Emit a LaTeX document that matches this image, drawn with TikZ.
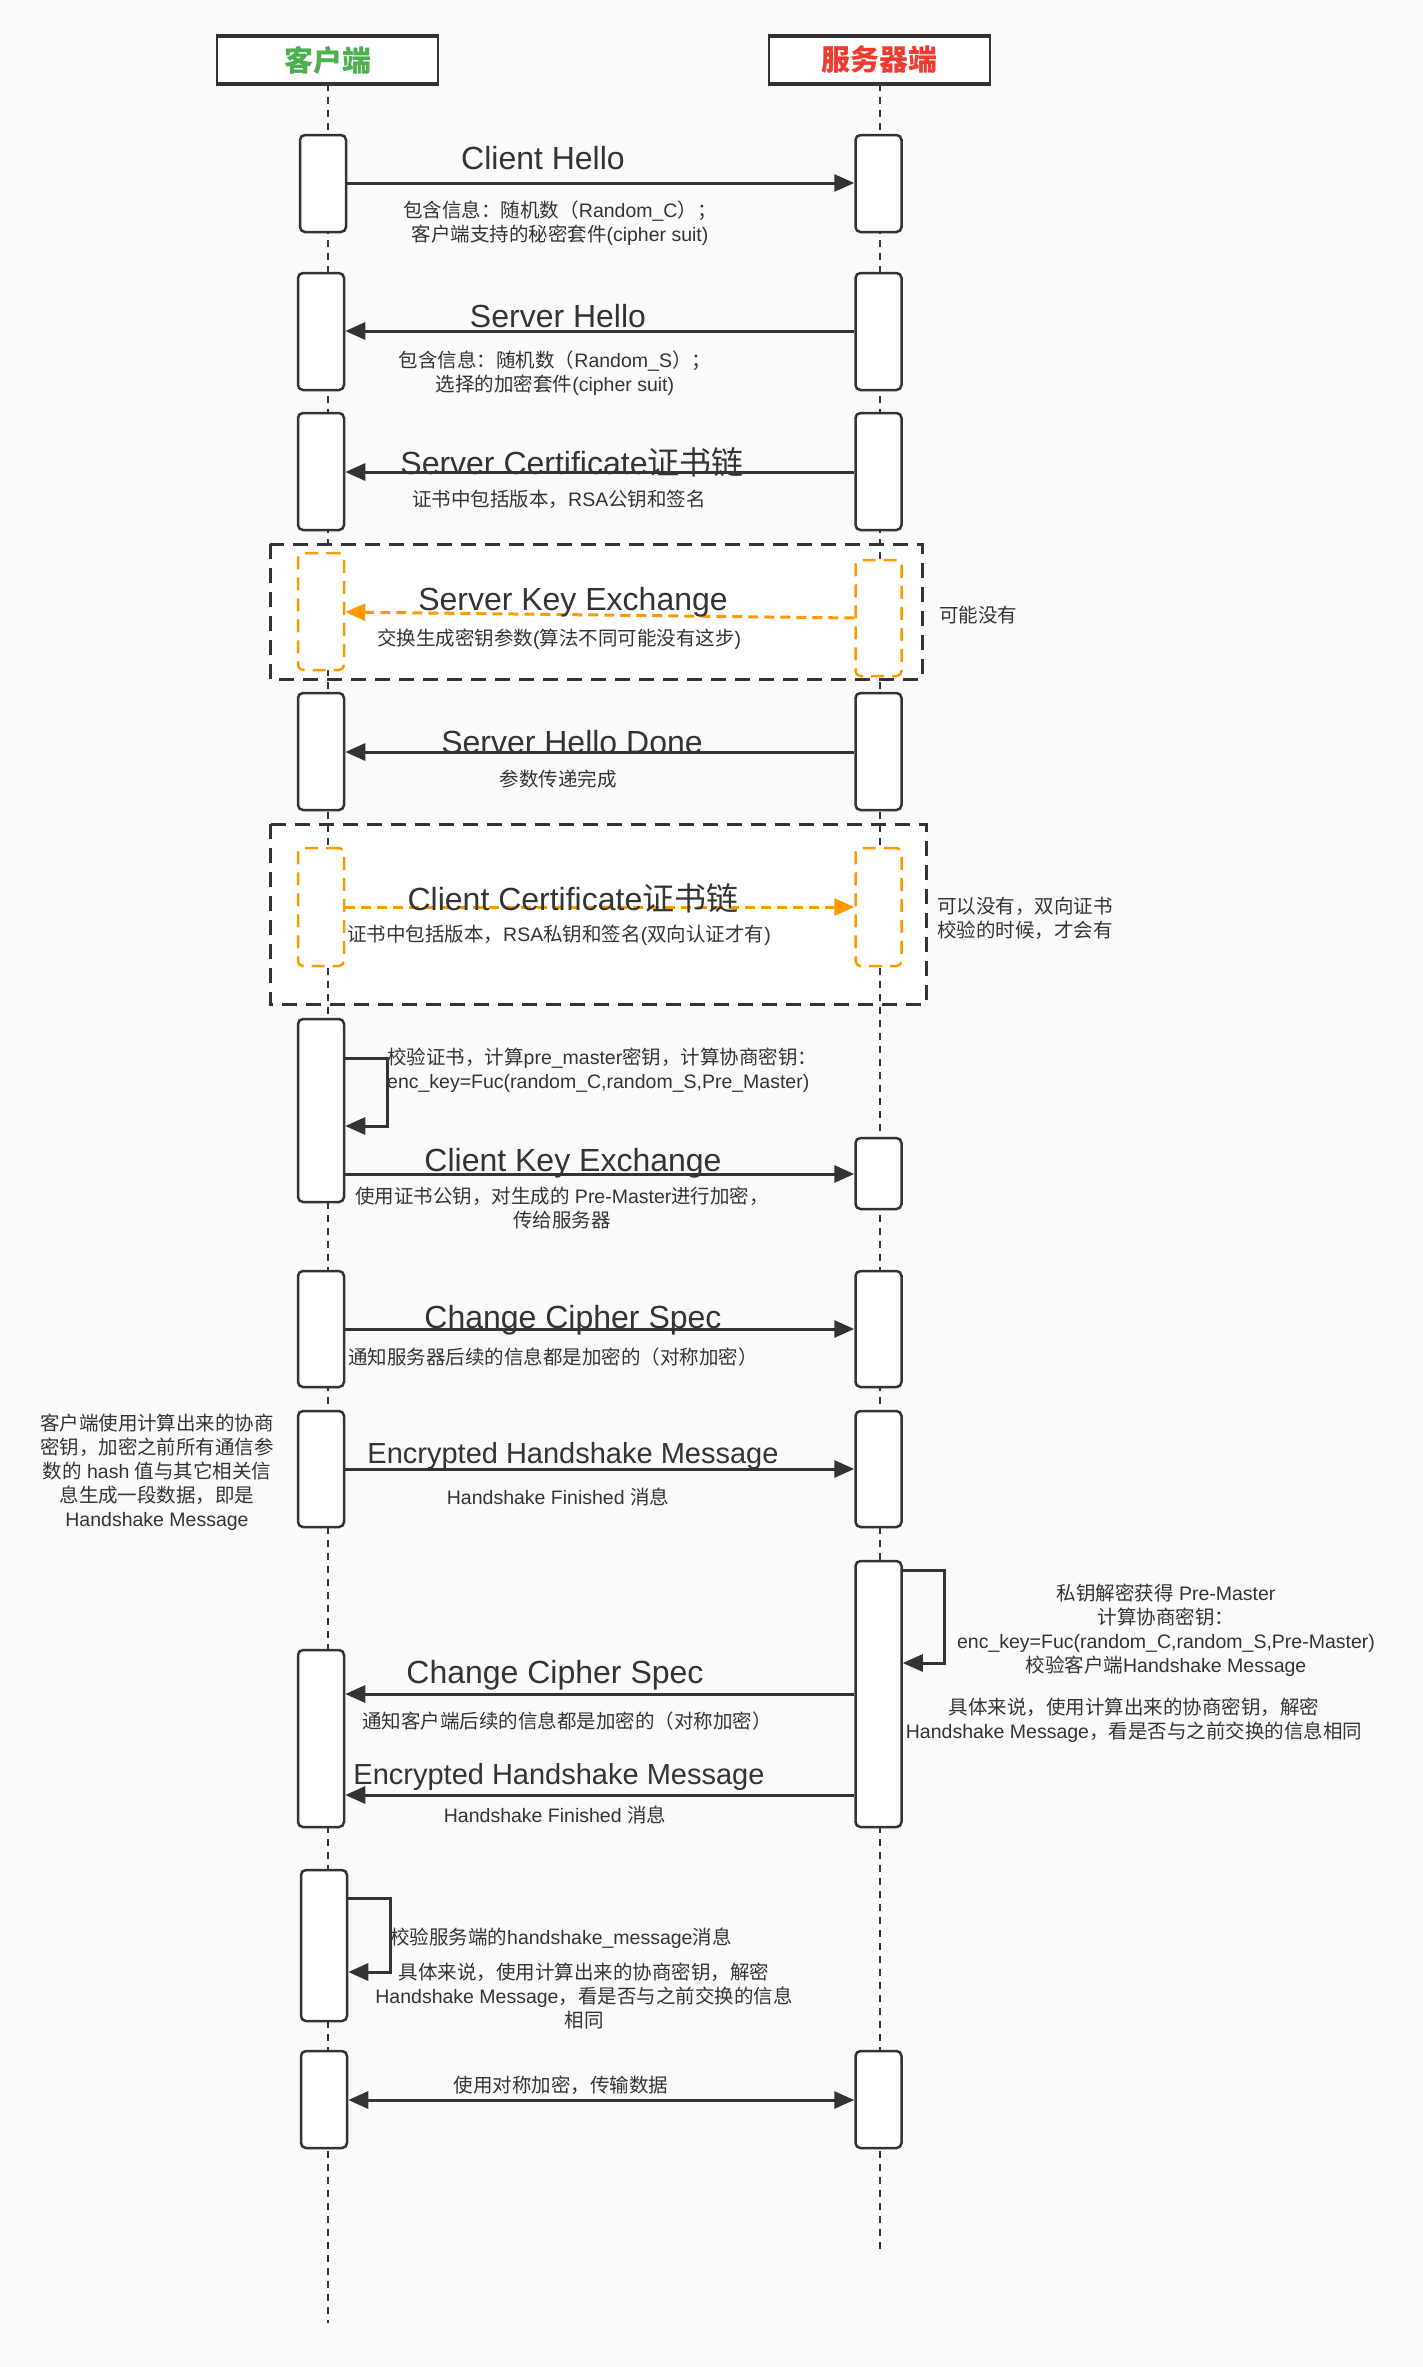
\documentclass[tikz,border=0pt]{standalone}
\usepackage{fontspec}
\setmainfont{Liberation Sans}
\newfontfamily\cjkf{Noto Sans CJK SC}
\newfontfamily\latf{Liberation Sans}
\usetikzlibrary{arrows.meta}
\newXeTeXintercharclass\cjkcls
\makeatletter
\def\setcjkrange#1#2{\count@=#1\relax\loop\XeTeXcharclass\count@=\cjkcls\relax\ifnum\count@<#2\relax\advance\count@ by 1\relax\repeat}
\setcjkrange{"3000}{"303F}
\setcjkrange{"4E00}{"9FFF}
\setcjkrange{"FF00}{"FFEF}
\makeatother
\XeTeXinterchartoks 0 \cjkcls = {\cjkf}
\XeTeXinterchartoks 4095 \cjkcls = {\cjkf}
\XeTeXinterchartoks \cjkcls 0 = {\latf}
\XeTeXinterchartoks \cjkcls 4095 = {\latf}
\XeTeXinterchartokenstate=1
\definecolor{dk}{HTML}{333333}
\definecolor{bg}{HTML}{FAFAFA}
\definecolor{og}{HTML}{FF9900}
\definecolor{gn}{HTML}{4CAF50}
\definecolor{rd}{HTML}{F23A30}
\tikzset{
  act/.style={draw=dk, line width=2.5pt, fill=white, rounded corners=5pt, minimum width=46pt, inner sep=0pt},
  oact/.style={draw=og, line width=2.5pt, fill=white, rounded corners=5pt, minimum width=46pt, inner sep=0pt, dash pattern=on 13pt off 8pt},
  msg/.style={draw=dk, line width=3pt, -{Triangle[length=20pt,width=17pt]}},
  omsg/.style={draw=og, line width=3pt, dash pattern=on 10pt off 6pt, -{Triangle[length=20pt,width=17pt]}},
  lbl/.style={text=dk, font=\fontsize{32}{38}\selectfont, inner sep=0pt},
  lbls/.style={text=dk, font=\fontsize{29}{35}\selectfont, inner sep=0pt},
  sub/.style={text=dk, font=\fontsize{19.5}{24}\selectfont, inner sep=0pt, align=center},
  subl/.style={text=dk, font=\fontsize{19.5}{24}\selectfont, inner sep=0pt, align=left, anchor=west},
  life/.style={draw=dk, line width=2pt, dash pattern=on 7pt off 6pt},
  optbox/.style={draw=dk, fill=white, line width=3pt, dash pattern=on 15pt off 9pt},
  hdr/.style={draw=dk, line width=2pt, fill=white, minimum width=221pt, minimum height=46pt, inner sep=0pt, font=\fontsize{29}{34}\selectfont\bfseries},
}
\begin{document}
\begin{tikzpicture}[x=1pt,y=-1pt]
\fill[bg] (0,0) rectangle (1423,2367);
\useasboundingbox (0,0) rectangle (1423,2367);

% optional dashed regions
\draw[optbox] (270,544) rectangle (922,679);
\draw[optbox] (270,824) rectangle (926,1004);

% headers
\node[hdr, text=gn] (hc) at (327.5,60) {客户端};
\node[hdr, text=rd] (hs) at (879.5,60) {服务器端};
\draw[dk, line width=4pt] (hc.north west) -- (hc.north east);
\draw[dk, line width=4pt] (hc.south west) -- (hc.south east);
\draw[dk, line width=4pt] (hs.north west) -- (hs.north east);
\draw[dk, line width=4pt] (hs.south west) -- (hs.south east);

% lifelines
\coordinate (cend) at (327.5,2323);
\coordinate (send) at (879.5,2250);
\draw[life] (hc.south) -- (cend);
\draw[life] (hs.south) -- (send);

% activations
\node[act, minimum height=97pt] (c1) at (323,183.5) {};
\node[act, minimum height=97pt] (s1) at (878.5,183.5) {};
\node[act, minimum height=117pt] (c2) at (321,331.5) {};
\node[act, minimum height=117pt] (s2) at (878.5,331.5) {};
\node[act, minimum height=117pt] (c3) at (321,471.5) {};
\node[act, minimum height=117pt] (s3) at (878.5,471.5) {};
\node[oact, minimum height=117pt] (c4) at (321,611.5) {};
\node[oact, minimum height=116pt] (s4) at (878.5,618) {};
\node[act, minimum height=117pt] (c5) at (321,751.5) {};
\node[act, minimum height=117pt] (s5) at (878.5,751.5) {};
\node[oact, minimum height=118pt] (c6) at (321,907) {};
\node[oact, minimum height=118pt] (s6) at (878.5,907) {};
\node[act, minimum height=183pt] (c7) at (321,1110.5) {};
\node[act, minimum height=71pt] (s7) at (878.5,1173.5) {};
\node[act, minimum height=116pt] (c8) at (321,1329) {};
\node[act, minimum height=116pt] (s8) at (878.5,1329) {};
\node[act, minimum height=116pt] (c9) at (321,1469) {};
\node[act, minimum height=116pt] (s9) at (878.5,1469) {};
\node[act, minimum height=266pt] (s10) at (878.5,1694) {};
\node[act, minimum height=177pt] (c10) at (321,1738.5) {};
\node[act, minimum height=151pt] (c11) at (324,1945.5) {};
\node[act, minimum height=97pt] (c12) at (324,2099.5) {};
\node[act, minimum height=97pt] (s12) at (878.5,2099.5) {};

% messages
\draw[msg] (c1.east |- 0,183) -- (s1.west |- 0,183);
\draw[msg] (s2.west |- 0,331) -- (c2.east |- 0,331);
\draw[msg] (s3.west |- 0,472) -- (c3.east |- 0,472);
\draw[omsg] (s4.west |- 0,618) -- (c4.east |- 0,612);
\draw[msg] (s5.west |- 0,752) -- (c5.east |- 0,752);
\draw[omsg] (c6.east |- 0,907) -- (s6.west |- 0,907);
\draw[msg] (c7.east |- 0,1058) -- (387,1058) -- (387,1126) -- (c7.east |- 0,1126);
\draw[msg] (c7.east |- 0,1174) -- (s7.west |- 0,1174);
\draw[msg] (c8.east |- 0,1329) -- (s8.west |- 0,1329);
\draw[msg] (c9.east |- 0,1469) -- (s9.west |- 0,1469);
\draw[msg] (s10.east |- 0,1570) -- (944,1570) -- (944,1663) -- (s10.east |- 0,1663);
\draw[msg] (s10.west |- 0,1694) -- (c10.east |- 0,1694);
\draw[msg] (s10.west |- 0,1795) -- (c10.east |- 0,1795);
\draw[msg] (c11.east |- 0,1898) -- (390,1898) -- (390,1972) -- (c11.east |- 0,1972);
\draw[draw=dk, line width=3pt, {Triangle[length=20pt,width=17pt]}-{Triangle[length=20pt,width=17pt]}] (c12.east |- 0,2100) -- (s12.west |- 0,2100);

% labels
\node[lbl] (t1) at (543,158) {Client Hello};
\node[sub] (n1) at (560,223) {包含信息：随机数（Random\_C）；\\ 客户端支持的秘密套件(cipher suit)};
\node[lbl] (t2) at (558,316) {Server Hello};
\node[sub] (n2) at (555,373) {包含信息：随机数（Random\_S）；\\选择的加密套件(cipher suit)};
\node[lbl] (t3) at (572,462) {Server Certificate证书链};
\node[sub] (n3) at (559,499) {证书中包括版本，RSA公钥和签名};
\node[lbl] (t4) at (573,602) {Server Key Exchange};
\node[sub] (n4) at (559,639) {交换生成密钥参数(算法不同可能没有这步)};
\node[subl] (m4) at (939,615) {可能没有};
\node[lbl] (t5) at (572,742) {Server Hello Done};
\node[sub] (n5) at (558,779) {参数传递完成};
\node[lbl] (t6) at (573,898) {Client Certificate证书链};
\node[sub] (n6) at (559,935) {证书中包括版本，RSA私钥和签名(双向认证才有)};
\node[subl] (m6) at (937,918.5) {可以没有，双向证书\\校验的时候，才会有};
\node[subl] (m7) at (387,1070) {校验证书，计算pre\_master密钥，计算协商密钥：\\enc\_key=Fuc(random\_C,random\_S,Pre\_Master)};
\node[lbl] (t7) at (573,1163) {Client Key Exchange};
\node[sub] (n7) at (562,1208.5) {使用证书公钥，对生成的 Pre-Master进行加密，\\传给服务器};
\node[lbl] (t8) at (573,1320) {Change Cipher Spec};
\node[sub] (n8) at (553,1357) {通知服务器后续的信息都是加密的（对称加密）};
\node[lbls] (t9) at (573,1456) {Encrypted Handshake Message};
\node[sub] (n9) at (558,1497) {Handshake Finished 消息};
\node[sub] (m9) at (157,1472) {客户端使用计算出来的协商\\密钥，加密之前所有通信参\\数的 hash 值与其它相关信\\息生成一段数据，即是\\Handshake Message};
\node[sub] (m10a) at (1166,1630) {私钥解密获得 Pre-Master\\计算协商密钥：\\enc\_key=Fuc(random\_C,random\_S,Pre-Master)\\校验客户端Handshake Message};
\node[sub] (m10b) at (1134,1720) {具体来说，使用计算出来的协商密钥，解密\\Handshake Message，看是否与之前交换的信息相同};
\node[lbl] (t10) at (555,1675) {Change Cipher Spec};
\node[sub] (n10) at (567,1721) {通知客户端后续的信息都是加密的（对称加密）};
\node[lbls] (t11) at (559,1777) {Encrypted Handshake Message};
\node[sub] (n11) at (555,1815) {Handshake Finished 消息};
\node[subl] (m12a) at (390,1938) {校验服务端的handshake\_message消息};
\node[sub] (m12b) at (584,1996) {具体来说，使用计算出来的协商密钥，解密\\Handshake Message，看是否与之前交换的信息\\相同};
\node[sub] (t13) at (561,2085) {使用对称加密，传输数据};
\end{tikzpicture}
\end{document}
